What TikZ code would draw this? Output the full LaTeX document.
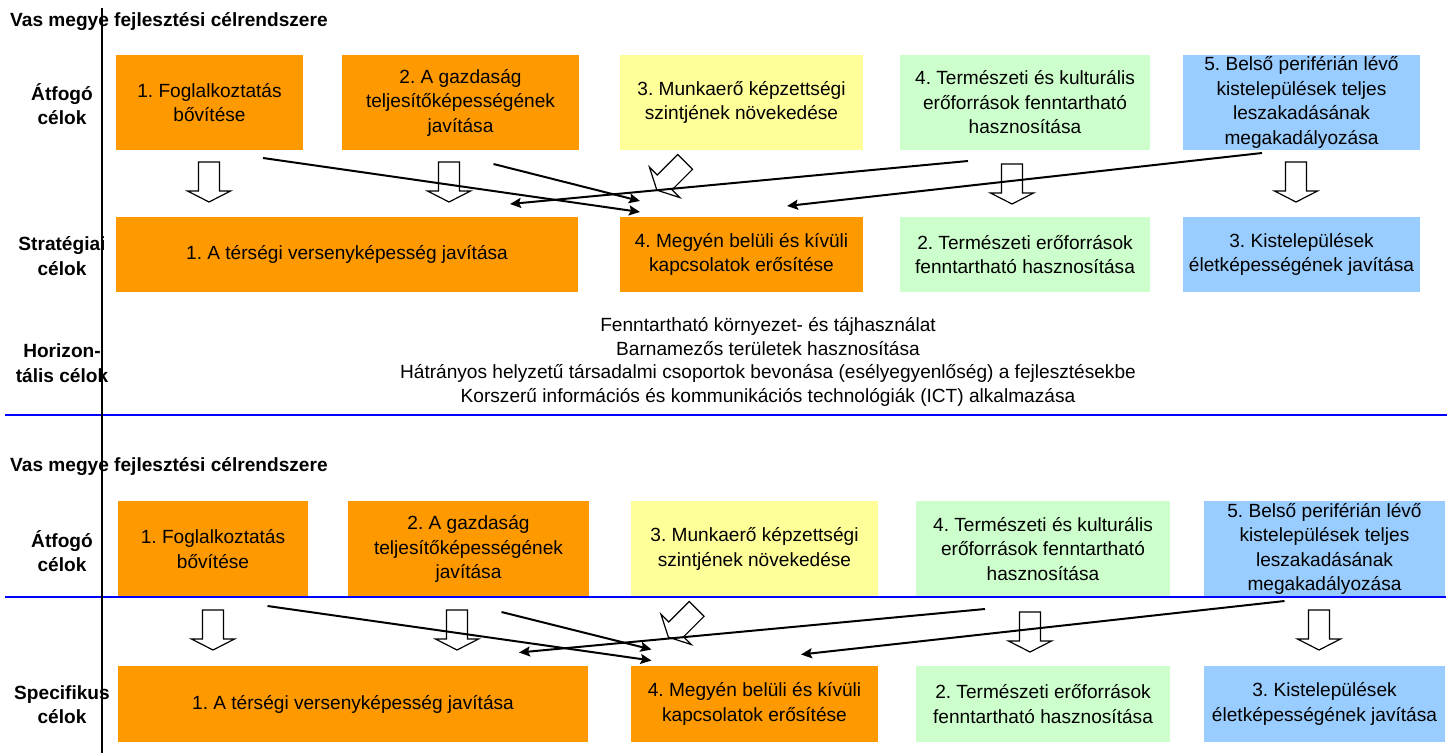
\documentclass[tikz,border=0pt]{standalone}
\usepackage{fontspec}
\setmainfont{Liberation Sans}
\usepackage{tikz}
\usetikzlibrary{arrows, arrows.meta, calc}
\frenchspacing
\definecolor{goalorange}{RGB}{255,153,0}
\definecolor{goalyellow}{RGB}{255,255,153}
\definecolor{goalgreen}{RGB}{204,255,204}
\definecolor{goalblue}{RGB}{153,204,255}
\tikzstyle{boxtext}  = [font=\fontsize{19.1pt}{24.5pt}\selectfont]
\tikzstyle{goal}     = [rectangle, boxtext, minimum height=95pt, inner xsep=2pt, inner ysep=0pt, outer sep=0pt, text centered]
\tikzstyle{strat}    = [rectangle, boxtext, minimum height=75pt, inner xsep=2pt, inner ysep=0pt, outer sep=0pt, text centered]
\tikzstyle{rowlabel} = [font=\bfseries\fontsize{19.1pt}{24.5pt}\selectfont]
\tikzstyle{heading}  = [font=\bfseries\fontsize{19.1pt}{22pt}\selectfont, anchor=base west, inner sep=0pt]
\tikzstyle{arrow}    = [line width=2pt, ->, >={Stealth[length=11pt, width=10pt, inset=2pt]}]
\tikzstyle{sepline}  = [line width=2.4pt, blue]
\tikzset{every node/.style={align=center}}
\tikzset{hollow/.pic={\draw [line width=1.2pt, fill=white] (-10.5,-20) -- (10.5,-20) -- (10.5,9) -- (21.5,9) -- (0,20) -- (-21.5,9) -- (-10.5,9) -- cycle;}}

\begin{document}
\begin{tikzpicture}[x=1pt, y=-1pt]
    \useasboundingbox (0,0) rectangle (1454,753);

    \node (tt)  at (10,26)       [heading]  {Vas megye fejlesztési célrendszere};
    \node (la)  at (62,104)      [rowlabel] {Átfogó\\célok};
    \node (ls)  at (62,256)      [rowlabel] {Stratégiai\\célok};
    \node (lh)  at (62,363)      [rowlabel] {Horizon-\\tális célok};

    \node (a1)  at (209.5,102.5)  [goal, fill=goalorange, minimum width=187pt] {1. Foglalkoztatás\\bővítése};
    \node (a2)  at (460.5,102.5)  [goal, fill=goalorange, minimum width=237pt] {2. A gazdaság\\teljesítőképességének\\javítása};
    \node (a3)  at (741.5,102.5)  [goal, fill=goalyellow, minimum width=243pt] {3. Munkaerő képzettségi\\szintjének növekedése};
    \node (a4)  at (1025,102.5)   [goal, fill=goalgreen,  minimum width=250pt] {4. Természeti és kulturális\\erőforrások fenntartható\\hasznosítása};
    \node (a5)  at (1301.5,102.5) [goal, fill=goalblue,   minimum width=237pt] {5. Belső periférián lévő\\kistelepülések teljes\\leszakadásának\\megakadályozása};

    \node (s1)  at (347,254.5)    [strat, fill=goalorange, minimum width=462pt] {1. A térségi versenyképesség javítása};
    \node (s4)  at (741.5,254.5)  [strat, fill=goalorange, minimum width=243pt] {4. Megyén belüli és kívüli\\kapcsolatok erősítése};
    \node (s2)  at (1025,254.5)   [strat, fill=goalgreen,  minimum width=250pt] {2. Természeti erőforrások\\fenntartható hasznosítása};
    \node (s3)  at (1301.5,254.5) [strat, fill=goalblue,   minimum width=237pt] {3. Kistelepülések\\életképességének javítása};

    \pic at (209,182) {hollow};
    \pic at (449,182) {hollow};
    \pic [rotate=-45] at (671,176) {hollow};
    \pic at (1012,184) {hollow};
    \pic at (1296,182) {hollow};

    \draw [arrow] ($(a1.south)+(53.5,8)$)       -- ($(s4.north west)+(20,-5)$);
    \draw [arrow] ($(a2.south)+(33,14)$)        -- ($(s4.north west)+(20,-16)$);
    \draw [arrow] ($(a4.south west)+(68,11)$)   -- ($(s1.north east)+(-68,-13)$);
    \draw [arrow] ($(a5.south west)+(79,3)$)    -- ($(s4.north east)+(-76,-11)$);

    \node (hz)  at (768,362) [font=\fontsize{19.1pt}{23.5pt}\selectfont] {Fenntartható környezet- és tájhasználat\\Barnamezős területek hasznosítása\\Hátrányos helyzetű társadalmi csoportok bevonása (esélyegyenlőség) a fejlesztésekbe\\Korszerű információs és kommunikációs technológiák (ICT) alkalmazása};

    \node (bt)  at (10,471.5)    [heading]  {Vas megye fejlesztési célrendszere};
    \node (bla) at (62,551)      [rowlabel] {Átfogó\\célok};
    \node (bls) at (62,704.5)    [rowlabel] {Specifikus\\célok};

    \node (ba1) at (213,549)     [goal, minimum height=96pt, fill=goalorange, minimum width=190pt] {1. Foglalkoztatás\\bővítése};
    \node (ba2) at (468.5,549)   [goal, minimum height=96pt, fill=goalorange, minimum width=241pt] {2. A gazdaság\\teljesítőképességének\\javítása};
    \node (ba3) at (754.5,549)   [goal, minimum height=96pt, fill=goalyellow, minimum width=247pt] {3. Munkaerő képzettségi\\szintjének növekedése};
    \node (ba4) at (1043,549)    [goal, minimum height=96pt, fill=goalgreen,  minimum width=254pt] {4. Természeti és kulturális\\erőforrások fenntartható\\hasznosítása};
    \node (ba5) at (1324.5,549)  [goal, minimum height=96pt, fill=goalblue,   minimum width=241pt] {5. Belső periférián lévő\\kistelepülések teljes\\leszakadásának\\megakadályozása};

    \node (bs1) at (353,704)     [strat, minimum height=76pt, fill=goalorange, minimum width=470pt] {1. A térségi versenyképesség javítása};
    \node (bs4) at (754.5,704)   [strat, minimum height=76pt, fill=goalorange, minimum width=247pt] {4. Megyén belüli és kívüli\\kapcsolatok erősítése};
    \node (bs2) at (1043,704)    [strat, minimum height=76pt, fill=goalgreen,  minimum width=254pt] {2. Természeti erőforrások\\fenntartható hasznosítása};
    \node (bs3) at (1324.5,704)  [strat, minimum height=76pt, fill=goalblue,   minimum width=241pt] {3. Kistelepülések\\életképességének javítása};

    \pic at (213,630) {hollow};
    \pic at (457,630) {hollow};
    \pic [rotate=-45] at (682.5,623) {hollow};
    \pic at (1030,632) {hollow};
    \pic at (1319,630) {hollow};

    \draw [arrow] ($(ba1.south)+(54.5,9)$)      -- ($(bs4.north west)+(20.5,-5.5)$);
    \draw [arrow] ($(ba2.south)+(33,15)$)       -- ($(bs4.north west)+(20.5,-16.5)$);
    \draw [arrow] ($(ba4.south west)+(69,12)$)  -- ($(bs1.north east)+(-69,-13.5)$);
    \draw [arrow] ($(ba5.south west)+(80.5,4)$) -- ($(bs4.north east)+(-77,-11.5)$);

    \draw [sepline] (5,415) -- (1447,415);
    \draw [sepline] (5,597) -- (1446,597);
    \draw [line width=2.5pt] (102,8) -- (102,753);
\end{tikzpicture}
\end{document}
